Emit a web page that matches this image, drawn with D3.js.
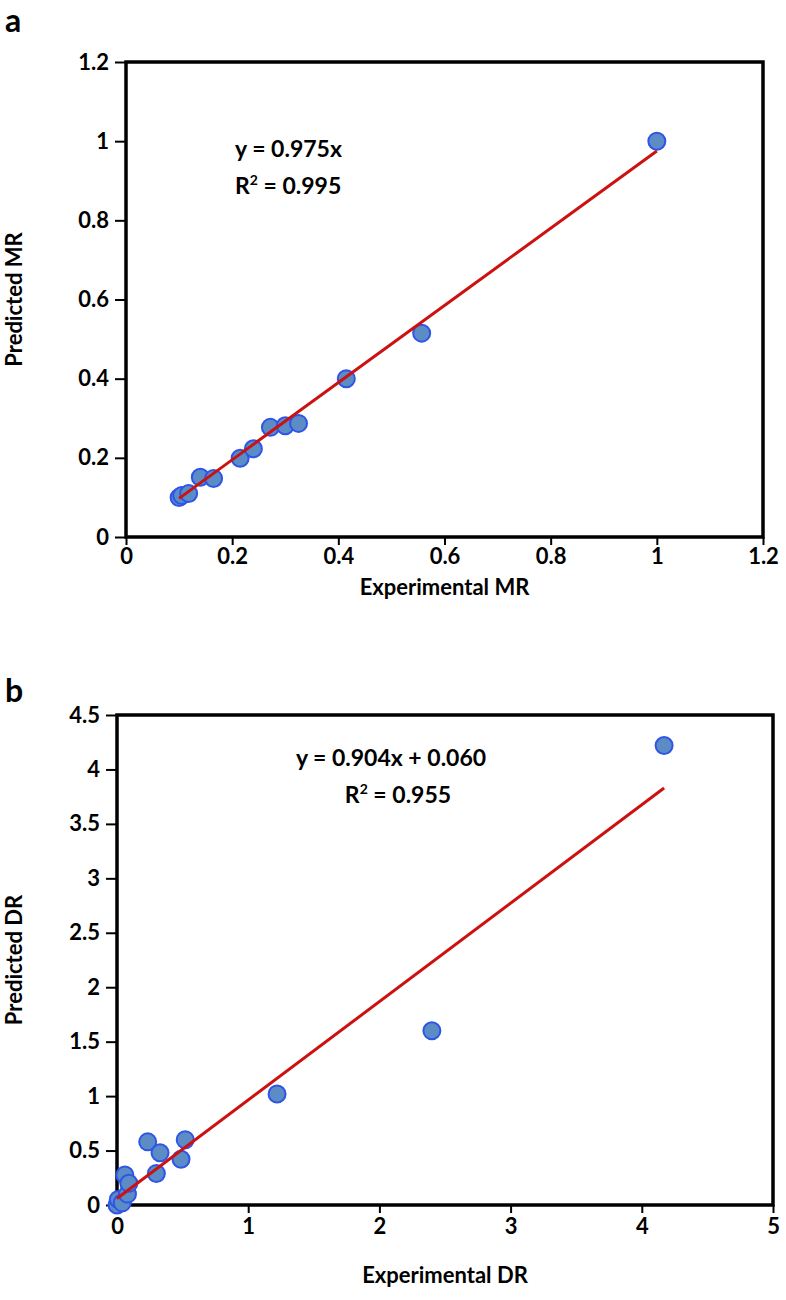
<!DOCTYPE html>
<html><head><meta charset="utf-8">
<script src="https://cdn.jsdelivr.net/npm/d3@7"></script>
<style>
body{margin:0;background:#fff}
svg text{font-family:Lato,'Open Sans',sans-serif;font-weight:700;fill:#000}
</style>
</head><body>
<svg id="c" width="786" height="1300"></svg>
<script>
// Panel a: moisture ratio
const mrExperimental = [0.10, 0.105, 0.118, 0.14, 0.165, 0.215, 0.24, 0.272, 0.30, 0.325, 0.415, 0.557, 1.0];
const mrPredicted    = [0.10, 0.105, 0.11, 0.151, 0.148, 0.199, 0.223, 0.277, 0.281, 0.287, 0.40, 0.515, 1.0];
const mrTicks = [0, 0.2, 0.4, 0.6, 0.8, 1, 1.2];
const mrFit = {slope: 0.975, intercept: 0};

// Panel b: drying rate
const drExperimental = [0.0, 0.01, 0.04, 0.06, 0.08, 0.09, 0.234, 0.30, 0.328, 0.488, 0.52, 1.22, 2.40, 4.17];
const drPredicted    = [0.0, 0.05, 0.02, 0.275, 0.10, 0.20, 0.58, 0.29, 0.48, 0.42, 0.60, 1.02, 1.60, 4.22];
const drXTicks = [0, 1, 2, 3, 4, 5];
const drYTicks = [0, 0.5, 1, 1.5, 2, 2.5, 3, 3.5, 4, 4.5];
const drFit = {slope: 0.904, intercept: 0.060};

const svg = d3.select("#c");
const fmt = v => String(+v.toFixed(2));

function panel(o) {
  const g = svg.append("g");
  const x = d3.scaleLinear().domain(o.xDomain).range(o.xRange);
  const y = d3.scaleLinear().domain(o.yDomain).range(o.yRange);

  const xa = g.append("g").attr("transform", `translate(0,${o.yRange[0]})`)
    .call(d3.axisBottom(x).tickValues(o.xTicks).tickFormat(fmt).tickSize(8).tickSizeOuter(0).tickPadding(o.xPad));
  const ya = g.append("g").attr("transform", `translate(${o.xRange[0]},0)`)
    .call(d3.axisLeft(y).tickValues(o.yTicks).tickFormat(fmt).tickSize(11).tickSizeOuter(0).tickPadding(6));
  [xa, ya].forEach(a => {
    a.select(".domain").remove();
    a.selectAll(".tick line").attr("stroke", "#000").attr("stroke-width", 2);
    a.selectAll(".tick text").style("font-size", "22px");
  });

  g.append("rect")
    .attr("x", o.xRange[0]).attr("y", o.yRange[1])
    .attr("width", o.xRange[1] - o.xRange[0]).attr("height", o.yRange[0] - o.yRange[1])
    .attr("fill", "none").attr("stroke", "#000").attr("stroke-width", 3.5);

  const data = o.xs.map((v, i) => [v, o.ys[i]]);
  g.append("g").selectAll("circle").data(data).join("circle")
    .attr("cx", d => x(d[0])).attr("cy", d => y(d[1])).attr("r", 8.5)
    .attr("fill", "#5b8cc6").attr("stroke", "#2f55e6").attr("stroke-width", 2);

  const x0 = d3.min(o.xs), x1 = d3.max(o.xs);
  g.append("line")
    .attr("x1", x(x0)).attr("y1", y(o.fit.slope * x0 + o.fit.intercept))
    .attr("x2", x(x1)).attr("y2", y(o.fit.slope * x1 + o.fit.intercept))
    .attr("stroke", "#cc1111").attr("stroke-width", 3);

  // equation
  g.append("text").attr("x", o.eqX).attr("y", o.eqY)
    .attr("text-anchor", o.eqAnchor).style("font-size", "23px").text(o.eqText);
  const r2 = g.append("text").attr("x", o.r2X).attr("y", o.eqY + 37)
    .attr("text-anchor", o.eqAnchor).style("font-size", "23px");
  r2.append("tspan").text("R");
  r2.append("tspan").attr("dy", -9).style("font-size", "14px").text("2");
  r2.append("tspan").attr("dy", 9).text(" = " + o.r2);

  // axis titles
  g.append("text").attr("x", (o.xRange[0] + o.xRange[1]) / 2).attr("y", o.xTitleY)
    .attr("text-anchor", "middle").style("font-size", "22px").text(o.xTitle);
  g.append("text").attr("transform", `translate(${o.yTitleX},${(o.yRange[0] + o.yRange[1]) / 2}) rotate(-90)`)
    .attr("text-anchor", "middle").style("font-size", "22px").text(o.yTitle);

  g.append("text").attr("x", 5).attr("y", o.letterY).style("font-size", "32px").text(o.letter);
}

panel({
  xs: mrExperimental, ys: mrPredicted, fit: mrFit,
  xDomain: [0, 1.2], yDomain: [0, 1.2], xRange: [126, 763], yRange: [537, 62],
  xTicks: mrTicks, yTicks: mrTicks, xPad: 3,
  eqX: 235, r2X: 235, eqY: 157, eqAnchor: "start", eqText: "y = 0.975x", r2: "0.995",
  xTitle: "Experimental MR", yTitle: "Predicted MR", xTitleY: 595, yTitleX: 22,
  letter: "a", letterY: 32
});

panel({
  xs: drExperimental, ys: drPredicted, fit: drFit,
  xDomain: [0, 5], yDomain: [0, 4.5], xRange: [117, 773], yRange: [1205, 715],
  xTicks: drXTicks, yTicks: drYTicks, xPad: 5,
  eqX: 391, r2X: 398, eqY: 766, eqAnchor: "middle", eqText: "y = 0.904x + 0.060", r2: "0.955",
  xTitle: "Experimental DR", yTitle: "Predicted DR", xTitleY: 1283, yTitleX: 22,
  letter: "b", letterY: 702
});
</script>
</body></html>
